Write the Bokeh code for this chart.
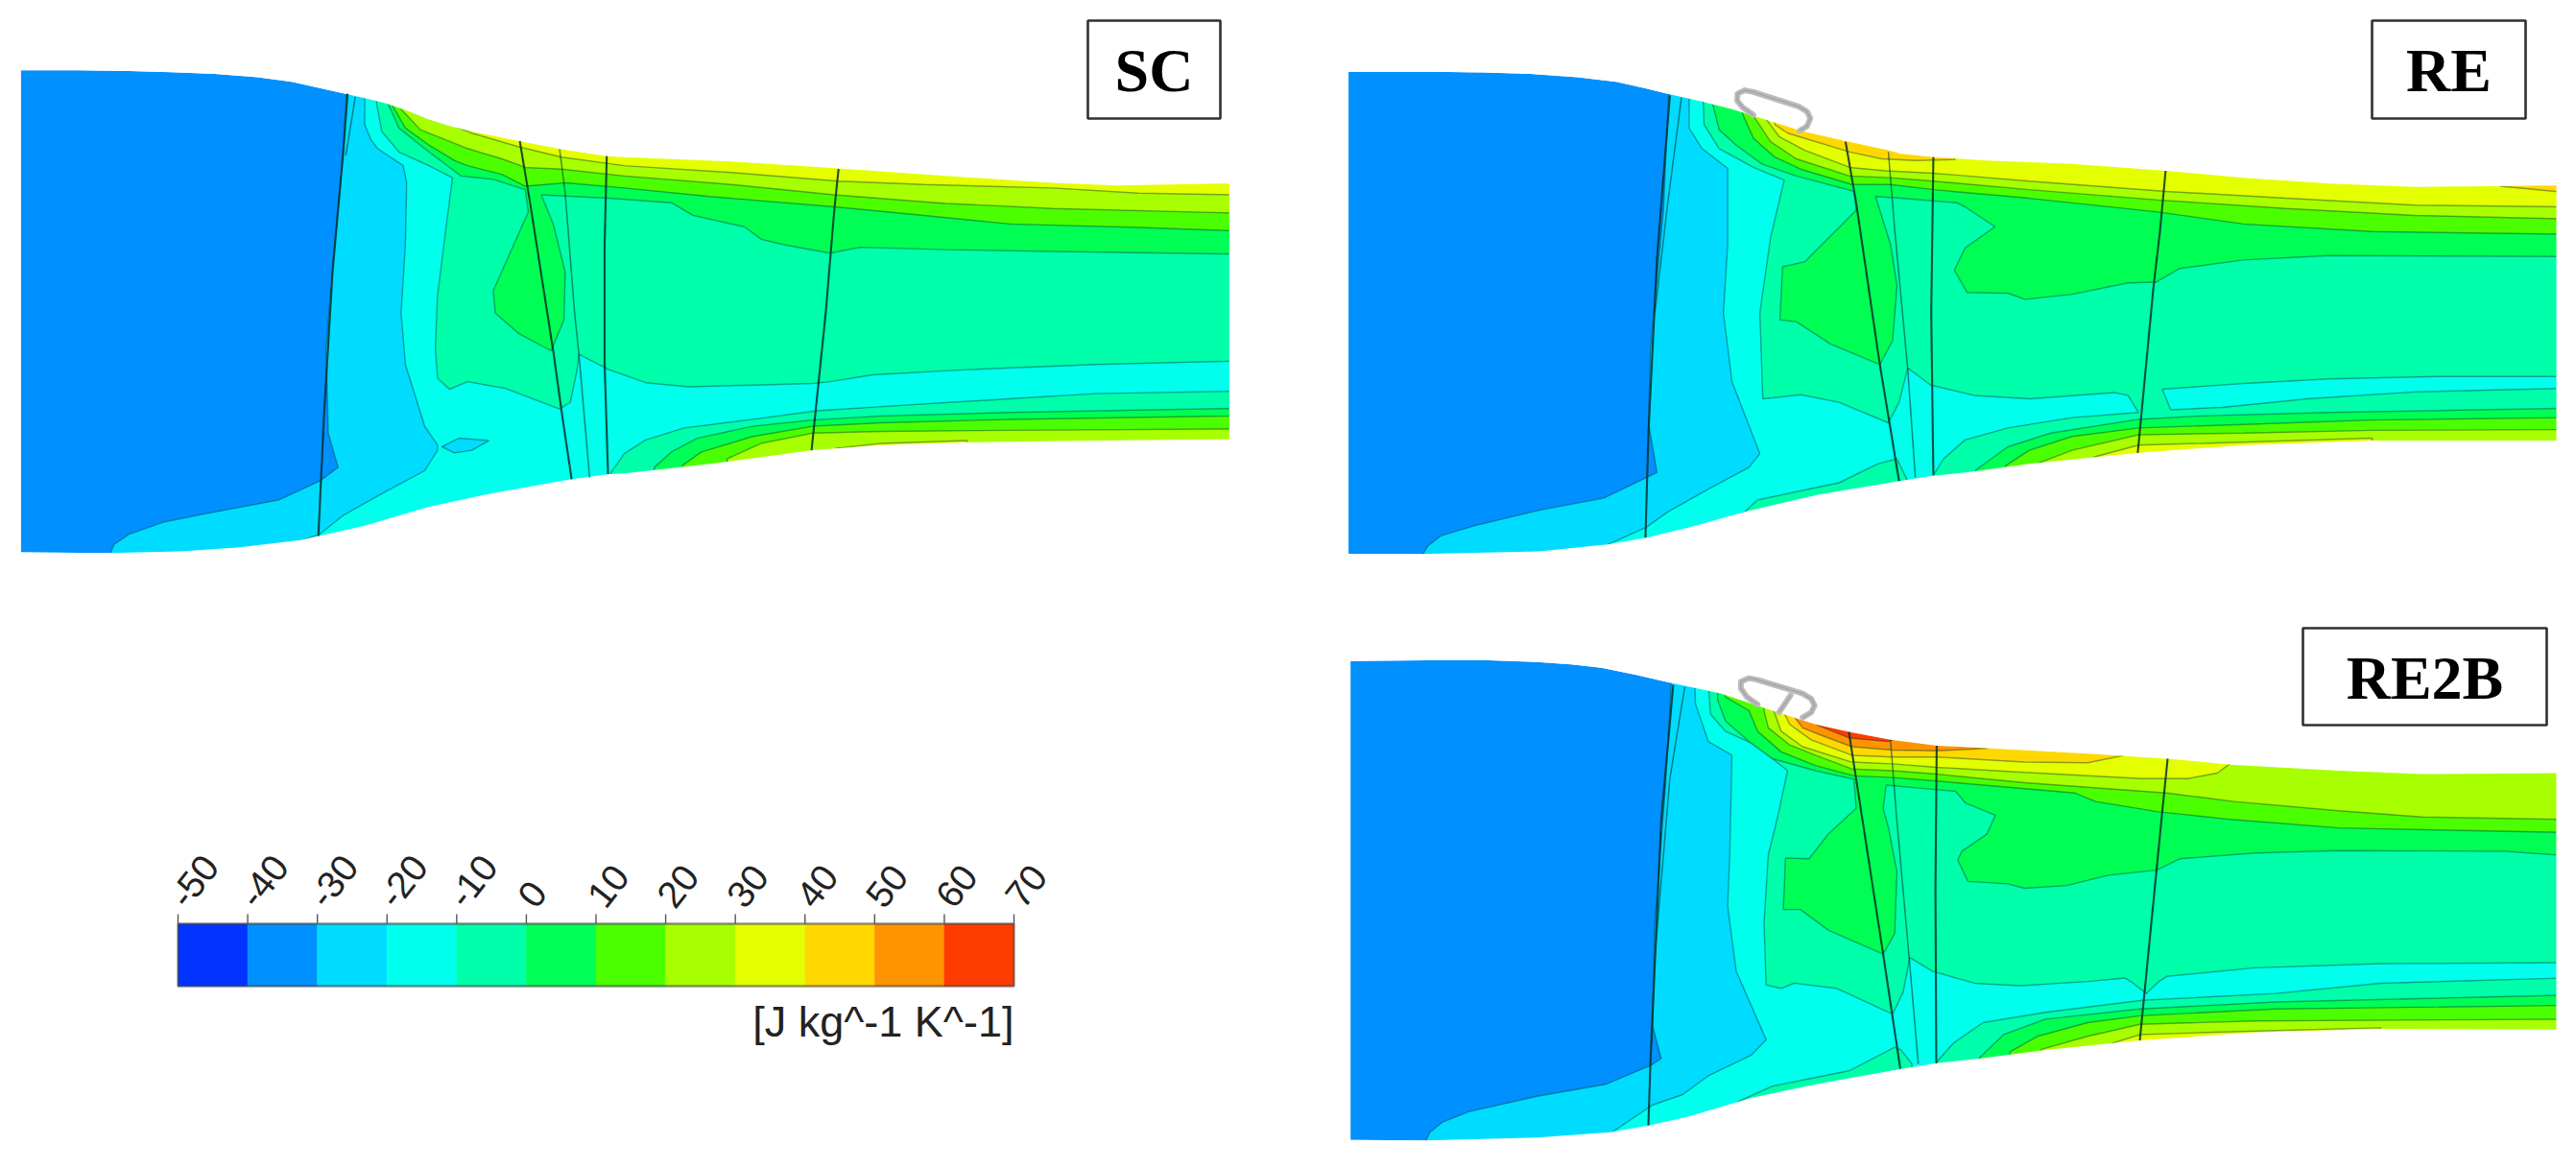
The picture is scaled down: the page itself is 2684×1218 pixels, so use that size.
from bokeh.core.properties import value
from bokeh.embed import file_html
from bokeh.plotting import figure
from bokeh.resources import INLINE

# entropy levels of the colour bar, [J kg^-1 K^-1]
LEVELS = [-50, -40, -30, -20, -10, 0, 10, 20, 30, 40, 50, 60, 70]
COLORS = ["#0033ff", "#0090ff", "#00dcff", "#00ffec", "#00ffaa", "#00ff55",
          "#4cff00", "#a8ff00", "#e4ff00", "#ffd800", "#ff9400", "#ff3c00"]
UNIT = "[J kg^-1 K^-1]"

SC_TOP = [(48,92),(180,92),(300,94),(400,97),(500,102),(600,112),(680,125),(750,145),(810,162),(860,176),(900,188),(950,210),(1000,235),(1050,255),(1100,270),(1210,298),(1310,322),(1415,342),(1456,345),(1706,358),(1956,378),(2206,400),(2456,420),(2606,428),(2756,424),(2868,422)]
SC_BOT = [(48,1498),(250,1500),(420,1495),(560,1483),(700,1462),(745,1450),(850,1420),(1000,1365),(1150,1325),(1330,1285),(1420,1270),(1456,1268),(1656,1240),(1896,1200),(2056,1185),(2256,1177),(2556,1172),(2868,1168)]
SC_M30 = [(810,80),(800,330),(780,600),(760,900),(765,1150),(788,1250),(745,1290),(650,1345),(480,1385),(380,1410),(300,1445),(265,1475),(250,1520),(2880,1520),(2880,80)]
SC_M20 = [(850,80),(850,250),(865,295),(880,320),(940,370),(948,420),(945,600),(935,800),(945,950),(990,1130),(1020,1185),(1020,1200),(990,1260),(900,1320),(800,1390),(745,1445),(700,1465),(690,1520),(2880,1520),(2880,80)]
SC_ISLAND = [(1030,1190),(1070,1165),(1140,1172),(1100,1200),(1060,1208)]
SC_M10 = [(875,80),(878,190),(890,270),(930,330),(1000,370),(1055,405),(1040,550),(1020,750),(1015,900),(1020,990),(1048,1022),(1090,1000),(1180,1020),(1305,1080),(1330,1060),(1345,970),(1350,920),(1420,965),(1506,1003),(1606,1015),(1756,1010),(1896,1005),(1936,1000),(2036,980),(2256,965),(2556,950),(2880,940),(2880,80)]
SC_M10_B = [(1425,1265),(1456,1210),(1506,1170),(1596,1135),(1756,1110),(1906,1085),(2156,1065),(2356,1050),(2556,1035),(2880,1028),(2880,1520),(1425,1520)]
SC_P0 = [(900,80),(905,190),(930,260),(990,320),(1075,400),(1150,410),(1225,440),(1232,505),(1150,735),(1155,800),(1210,860),(1285,910),(1315,820),(1318,680),(1290,540),(1262,455),(1420,465),(1566,478),(1616,515),(1736,548),(1776,585),(1826,600),(1936,625),(2006,608),(2206,615),(2456,620),(2880,628),(2880,80)]
SC_P10 = [(915,80),(915,195),(945,260),(1000,310),(1060,355),(1090,370),(1170,395),(1225,430),(1320,420),(1456,435),(1656,460),(1946,490),(2156,515),(2356,540),(2656,550),(2880,560),(2880,80)]
SC_P20 = [(935,80),(935,205),(980,265),(1050,300),(1090,320),(1170,350),(1225,375),(1310,380),(1456,400),(1706,425),(1946,455),(2206,480),(2456,495),(2880,508),(2880,80)]
SC_P30 = [(1030,80),(1030,240),(1100,275),(1210,315),(1310,345),(1456,370),(1706,390),(1956,415),(2156,425),(2456,435),(2656,450),(2880,455),(2880,80)]
SC_P0_B = [(1526,1250),(1566,1205),(1626,1165),(1756,1130),(1896,1112),(2056,1100),(2356,1090),(2880,1078),(2880,1520),(1526,1520)]
SC_P10_B = [(1591,1245),(1636,1205),(1756,1160),(1896,1130),(2056,1120),(2356,1110),(2880,1100),(2880,1520),(1591,1520)]
SC_P20_B = [(1696,1225),(1776,1180),(1896,1150),(2056,1145),(2356,1142),(2880,1138),(2880,1520),(1696,1520)]
SC_P30_B = [(1950,1195),(2056,1180),(2256,1172),(2256,1240),(1950,1240)]
SC_BLADES = [[(810,160),(800,330),(775,680),(755,1100),(742,1450)],
             [(1212,298),(1235,470),(1290,910),(1310,1090),(1333,1285)],
             [(1415,342),(1410,600),(1410,950),(1418,1270)],
             [(1956,380),(1946,500),(1926,800),(1893,1200)]]
SC_THIN = [[(828,170),(806,340)],
           [(1305,322),(1318,450),(1340,800),(1350,920),(1375,1280)]]

RE_TOP = [(55,96),(250,96),(370,98),(480,102),(590,112),(680,125),(750,145),(800,160),(880,183),(950,205),(1040,240),(1110,268),(1215,298),(1315,325),(1344,335),(1421,345),(1544,355),(1744,365),(1964,385),(2144,405),(2344,422),(2544,432),(2874,428)]
RE_BOT = [(55,1502),(220,1503),(500,1495),(660,1475),(750,1455),(850,1425),(980,1380),(1150,1330),(1340,1290),(1419,1275),(1514,1262),(1644,1240),(1894,1208),(2144,1185),(2444,1172),(2874,1172)]
RE_M30 = [(805,80),(790,500),(760,900),(755,1120),(775,1265),(750,1280),(650,1340),(500,1375),(350,1420),(270,1450),(240,1480),(220,1520),(2886,1520),(2886,80)]
RE_M20 = [(850,80),(850,260),(880,320),(940,378),(940,600),(930,800),(950,1000),(1015,1210),(990,1250),(900,1310),(800,1380),(750,1425),(660,1475),(640,1520),(2886,1520),(2886,80)]
RE_M10 = [(880,80),(885,250),(920,320),(1000,375),(1072,412),(1040,580),(1015,800),(1022,1050),(1060,1045),(1110,1038),(1200,1060),(1315,1120),(1340,1060),(1360,960),(1414,1010),(1514,1040),(1644,1050),(1844,1032),(1874,1040),(1899,1090),(1744,1105),(1594,1135),(1494,1170),(1444,1225),(1419,1275),(1419,1520),(2886,1520),(2886,80)]
RE_M10_S = [(980,1380),(1010,1345),(1200,1295),(1290,1240),(1335,1225),(1360,1290),(1360,1400),(980,1400)]
RE_STRIP = [(1954,1022),(2144,1005),(2344,992),(2594,985),(2886,985),(2886,1020),(2544,1030),(2294,1050),(2094,1075),(1974,1082)]
RE_P0 = [(905,80),(905,190),(920,265),(960,310),(1020,365),(1100,400),(1235,445),(1240,500),(1200,550),(1120,650),(1068,665),(1062,820),(1100,825),(1180,890),(1295,950),(1325,880),(1335,720),(1320,600),(1285,460),(1344,465),(1474,478),(1494,490),(1564,548),(1494,610),(1469,675),(1499,740),(1594,742),(1634,760),(1744,745),(1874,712),(1939,710),(1994,670),(2144,645),(2344,632),(2886,635),(2886,80)]
RE_P10 = [(975,80),(975,220),(1000,290),(1050,345),(1110,380),(1230,425),(1320,425),(1421,440),(1644,465),(1944,505),(2144,540),(2444,562),(2886,570),(2886,80)]
RE_P20 = [(1000,80),(1000,225),(1040,300),(1100,350),(1225,400),(1320,405),(1421,415),(1644,440),(1944,470),(2244,495),(2544,515),(2886,525),(2886,80)]
RE_P30 = [(1030,80),(1030,235),(1060,285),(1120,325),(1225,375),(1310,385),(1421,392),(1644,415),(1964,445),(2244,465),(2544,485),(2886,490),(2886,80)]
RE_P40 = [(1050,230),(1050,250),(1080,275),(1225,330),(1300,350),(1380,355),(1470,352),(1470,300)]
RE_P40_E = [(2744,430),(2886,447),(2886,400),(2744,400)]
RE_P0_B = [(1519,1258),(1594,1190),(1694,1150),(1899,1110),(2044,1100),(2344,1090),(2886,1078),(2886,1520),(1519,1520)]
RE_P10_B = [(1589,1245),(1644,1200),(1744,1160),(1899,1135),(2144,1125),(2444,1112),(2886,1105),(2886,1520),(1589,1520)]
RE_P20_B = [(1664,1238),(1744,1200),(1899,1155),(2144,1150),(2444,1142),(2886,1140),(2886,1520),(1664,1520)]
RE_P30_B = [(1794,1220),(1899,1185),(2044,1180),(2444,1165),(2444,1240),(1794,1240)]
RE_BLADES = [[(805,165),(775,640),(755,1150),(748,1455)],
             [(1215,300),(1240,480),(1295,950),(1340,1290)],
             [(1420,345),(1415,800),(1420,1272)],
             [(1962,385),(1949,560),(1934,720),(1897,1208)]]
RE_THIN = [[(832,172),(800,480),(770,800)],
           [(1315,330),(1330,560),(1360,960),(1378,1280)]]
RE_RING = [[(1000,222),(975,200),(962,180),(963,160),(980,150),(1000,155),(1105,197),(1125,212),(1133,232),(1125,255),(1108,268)]]

R2_TOP = [(15,135),(250,132),(340,133),(450,138),(530,145),(600,155),(680,175),(760,198),(880,230),(1000,280),(1100,320),(1180,342),(1275,365),(1385,382),(1539,392),(1735,405),(1920,420),(2077,438),(2321,455),(2516,465),(2829,462)]
R2_BOT = [(15,1532),(185,1534),(450,1525),(620,1510),(710,1490),(800,1465),(950,1410),(1100,1370),(1300,1325),(1383,1308),(1481,1295),(1637,1270),(1857,1242),(2126,1218),(2419,1208),(2829,1210)]
R2_M30 = [(768,100),(750,500),(725,900),(720,1200),(740,1295),(715,1315),(610,1370),(450,1405),(290,1450),(230,1480),(200,1510),(185,1550),(2841,1550),(2841,100)]
R2_M20 = [(815,100),(820,260),(850,370),(905,410),(900,700),(895,850),(915,1040),(985,1240),(950,1285),(850,1345),(790,1400),(720,1430),(625,1510),(600,1550),(2841,1550),(2841,100)]
R2_M10 = [(845,100),(855,290),(890,340),(960,380),(1035,455),(1010,600),(990,700),(980,900),(985,1080),(1020,1090),(1050,1075),(1150,1090),(1280,1165),(1305,1100),(1320,1000),(1373,1040),(1471,1075),(1578,1082),(1735,1070),(1823,1060),(1842,1075),(1872,1105),(1901,1070),(1920,1055),(2126,1030),(2419,1018),(2841,1015),(2841,100)]
R2_M10_B = [(1383,1305),(1422,1250),(1491,1190),(1637,1160),(1862,1125),(2174,1105),(2419,1075),(2841,1060),(2841,1550),(1383,1550)]
R2_M10_S = [(920,1420),(1000,1375),(1180,1330),(1285,1262),(1300,1270),(1325,1310),(1325,1400),(920,1450)]
R2_P0 = [(870,100),(872,250),(890,310),(950,375),(1000,420),(1100,455),(1190,480),(1195,565),(1130,640),(1085,712),(1030,710),(1025,860),(1065,860),(1130,920),(1258,990),(1285,930),(1290,750),(1270,620),(1258,565),(1265,497),(1380,510),(1427,515),(1451,550),(1520,585),(1500,640),(1442,690),(1432,715),(1456,778),(1549,785),(1588,798),(1686,790),(1784,760),(1896,745),(1950,712),(2126,695),(2321,688),(2712,690),(2841,702),(2841,100)]
R2_P10 = [(890,100),(890,240),(945,280),(965,340),(1020,400),(1100,440),(1190,470),(1280,475),(1383,485),(1705,520),(1754,545),(1901,575),(2077,598),(2321,622),(2841,635),(2841,100)]
R2_P20 = [(980,100),(980,280),(990,330),(1040,380),(1100,410),(1185,450),(1280,455),(1383,465),(1588,490),(1920,520),(2077,545),(2321,572),(2516,590),(2841,597),(2841,100)]
R2_P30 = [(1000,100),(1000,270),(1020,340),(1070,385),(1185,430),(1280,435),(1383,445),(1588,460),(1862,478),(1969,478),(2038,462),(2072,430),(2072,100)]
R2_P40 = [(1020,100),(1020,270),(1040,320),(1090,365),(1185,410),(1280,415),(1383,415),(1588,430),(1735,432),(1823,410),(1823,100)]
R2_P50 = [(1040,100),(1040,280),(1070,330),(1110,350),(1185,385),(1280,395),(1385,397),(1500,390),(1500,100)]
R2_P60 = [(1070,100),(1070,295),(1110,325),(1180,360),(1270,370),(1290,360),(1290,100)]
R2_P0_B = [(1481,1295),(1539,1225),(1637,1180),(1857,1150),(2174,1130),(2841,1110),(2841,1550),(1481,1550)]
R2_P10_B = [(1554,1275),(1618,1230),(1735,1190),(1857,1170),(2174,1150),(2841,1140),(2841,1550),(1554,1550)]
R2_P20_B = [(1627,1268),(1735,1230),(1857,1195),(2126,1185),(2841,1180),(2841,1550),(1627,1550)]
R2_P30_B = [(1793,1250),(1857,1225),(2028,1218),(2419,1205),(2419,1280),(1793,1280)]
R2_BLADES = [[(768,205),(740,600),(715,1300),(710,1490)],
             [(1178,342),(1200,520),(1258,990),(1298,1325)],
             [(1383,382),(1380,800),(1382,1308)],
             [(1922,420),(1909,580),(1896,745),(1857,1242)]]
R2_THIN = [[(795,210),(760,480),(725,1000),(718,1250)],
           [(1275,365),(1290,600),(1320,1020),(1340,1310)]]
R2_RING = [[(965,262),(940,240),(926,215),(926,195),(945,185),(965,190),(1070,230),(1090,245),(1098,265),(1090,285),(1070,300)],
           [(1042,235),(1015,285)]]

# (level index into COLORS, polygon) in painting order
SC_REGIONS = [(2,SC_M30),(3,SC_M20),(2,SC_ISLAND),(4,SC_M10),(4,SC_M10_B),(5,SC_P0),(6,SC_P10),(7,SC_P20),(8,SC_P30),
              (5,SC_P0_B),(6,SC_P10_B),(7,SC_P20_B),(8,SC_P30_B)]
RE_REGIONS = [(2,RE_M30),(3,RE_M20),(4,RE_M10),(4,RE_M10_S),(3,RE_STRIP),(5,RE_P0),(6,RE_P10),(7,RE_P20),(8,RE_P30),(9,RE_P40),(9,RE_P40_E),
              (5,RE_P0_B),(6,RE_P10_B),(7,RE_P20_B),(8,RE_P30_B)]
R2_REGIONS = [(2,R2_M30),(3,R2_M20),(4,R2_M10),(4,R2_M10_B),(4,R2_M10_S),(5,R2_P0),(6,R2_P10),(7,R2_P20),(8,R2_P30),(9,R2_P40),(10,R2_P50),(11,R2_P60),
              (5,R2_P0_B),(6,R2_P10_B),(7,R2_P20_B),(8,R2_P30_B)]

LABELS = ["SC", "RE", "RE2B"]


def unzip(pts, ox, oy):
    # panel units to picture pixels
    return [ox + x / 2.24 for x, y in pts], [oy + y / 2.8 for x, y in pts]


def draw_panel(p, ox, oy, top, bot, regions, blades, thin, ring=()):
    xs, ys = unzip(top + bot[::-1], ox, oy)
    p.patch(xs, ys, fill_color=COLORS[1], line_color=None)
    for level, poly in regions:
        xs, ys = unzip(poly, ox, oy)
        p.patch(xs, ys, fill_color=COLORS[level], line_color="#003030", line_alpha=0.42, line_width=1.4)
    # white masks trim the level polygons back to the duct walls
    xl, xr = top[0][0], top[-1][0]
    ytop, ybot = top[0][1] - 40, bot[0][1] + 40
    upper = top + [(xr + 40, top[-1][1]), (xr + 40, ytop), (xl, ytop)]
    lower = bot + [(xr + 40, bot[-1][1]), (xr + 40, ybot), (xl, ybot)]
    side = [(xr, ytop), (xr + 40, ytop), (xr + 40, ybot), (xr, ybot)]
    for poly in (upper, lower, side):
        xs, ys = unzip(poly, ox, oy)
        p.patch(xs, ys, fill_color="white", line_color=None)
    for line in blades:
        xs, ys = unzip(line, ox, oy)
        p.line(xs, ys, line_color="#00302c", line_alpha=0.85, line_width=2.1)
    for line in thin:
        xs, ys = unzip(line, ox, oy)
        p.line(xs, ys, line_color="#00403a", line_alpha=0.6, line_width=1.5)
    for line in ring:
        xs, ys = unzip(line, ox, oy)
        p.line(xs, ys, line_color="#bcbcbc", line_width=6, line_cap="round", line_join="round")
        p.line(xs, ys, line_color="#8c8c8c", line_alpha=0.5, line_width=1.5)


def draw_label(p, text, left, right, top, bottom):
    p.quad(left=left, right=right, top=top, bottom=bottom, fill_color="white", line_color="#303030", line_width=2.6)
    p.text([(left + right) / 2], [(top + bottom) / 2 + 1], text=[text], text_font=value("Liberation Serif"),
           text_font_style="bold", text_font_size="64px", text_color="black",
           text_align="center", text_baseline="middle")


# bokeh's page has no body margin, so picture pixels map straight onto the canvas
p = figure(width=2668, height=1202, x_range=(0, 2668), y_range=(1202, 0),
           output_backend="svg", toolbar_location=None, min_border=0)
p.axis.visible = False
p.grid.visible = False
p.outline_line_color = None

draw_panel(p, 0, 40, SC_TOP, SC_BOT, SC_REGIONS, SC_BLADES, SC_THIN)
draw_panel(p, 1380, 40, RE_TOP, RE_BOT, RE_REGIONS, RE_BLADES, RE_THIN, RE_RING)
draw_panel(p, 1400, 640, R2_TOP, R2_BOT, R2_REGIONS, R2_BLADES, R2_THIN, R2_RING)

draw_label(p, LABELS[0], 1133, 1271, 21, 123)
draw_label(p, LABELS[1], 2471, 2631, 21, 123)
draw_label(p, LABELS[2], 2399, 2653, 654, 755)

# colour bar
def bar_x(v):
    return 185 + (v + 50) * 871 / 120

p.quad(left=[bar_x(v) for v in LEVELS[:-1]], right=[bar_x(v) for v in LEVELS[1:]],
       top=962, bottom=1027, fill_color=COLORS, line_color=COLORS, line_width=0.5)
p.quad(left=bar_x(LEVELS[0]), right=bar_x(LEVELS[-1]), top=962, bottom=1027,
       fill_color=None, line_color="#404040", line_alpha=0.55, line_width=2.4)
p.segment(x0=[bar_x(v) for v in LEVELS], x1=[bar_x(v) for v in LEVELS], y0=952, y1=962,
          line_color="#555555", line_width=1.4)
p.text([bar_x(v) + 10 for v in LEVELS], [948] * len(LEVELS), text=[str(v) for v in LEVELS],
       angle=52, angle_units="deg", text_font=value("Liberation Sans"), text_font_size="39px",
       text_color="#222222", text_align="left", text_baseline="bottom")
p.text([1056], [1064], text=[UNIT], text_font=value("Liberation Sans"), text_font_size="45px",
       text_color="#222222", text_align="right", text_baseline="middle")

open("out.html", "w").write(file_html(p, INLINE))
